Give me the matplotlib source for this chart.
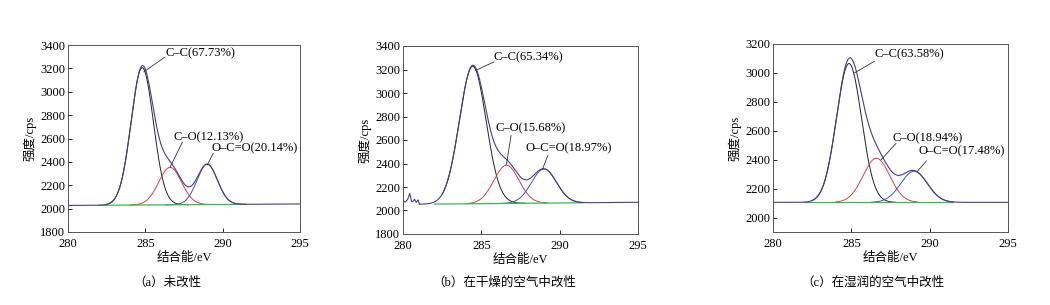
import numpy as np
import matplotlib
matplotlib.use('Agg')
import matplotlib.pyplot as plt

plt.rcParams['font.family'] = ['Liberation Serif', 'Noto Sans CJK SC']
plt.rcParams['font.size'] = 9

# peak parameters: centre (eV), height above baseline (cps), sigma (eV)
labels = ['C–C', 'C–O', 'O–C=O']
pct_a = ['67.73%', '12.13%', '20.14%']
pct_b = ['65.34%', '15.68%', '18.97%']
pct_c = ['63.58%', '18.94%', '17.48%']

centre_a = [284.8, 286.6, 289.0]
height_a = [1175, 320, 345]
sigma_a = [0.72, 0.74, 0.66]
base_a = [2027, 2040]          # baseline at 280 / 295 eV

centre_b = [284.45, 286.6, 289.0]
height_b = [1170, 325, 290]
sigma_b = [0.85, 0.8, 0.8]
base_b = [2052, 2070]
noise_x = [280.0, 280.15, 280.3, 280.43, 280.55, 280.65, 280.74, 280.85, 280.96, 281.05]
noise_y = [2080, 2072, 2095, 2145, 2075, 2080, 2095, 2070, 2090, 2055]

centre_c = [284.85, 286.6, 289.0]
height_c = [960, 305, 215]
sigma_c = [0.8, 0.85, 0.85]
base_c = [2105, 2105]

# x-range over which each component is drawn
comp_range = [(282.5, 287.8), (284.0, 289.2), (286.3, 291.5)]
green_range = (282.0, 291.5)

ylims = [(1800, 3400), (1800, 3400), (1900, 3200)]
yticks = [np.arange(1800, 3401, 200), np.arange(1800, 3401, 200), np.arange(2000, 3201, 200)]
captions = ['（a）未改性', '（b）在干燥的空气中改性', '（c）在湿润的空气中改性']

# per label: leader line (from, to) and lower-left corner of the text
ann_a = [((284.9, 3170), (286.27, 3297), (286.3, 3280)),
         ((286.6, 2355), (287.4, 2570), (286.8, 2562)),
         ((289.0, 2372), (289.4, 2475), (289.3, 2468))]
ann_b = [((284.6, 3190), (285.8, 3264), (285.75, 3250)),
         ((286.6, 2390), (286.9, 2640), (285.9, 2645)),
         ((288.9, 2350), (289.25, 2470), (287.8, 2475))]
ann_c = [((285.2, 3000), (286.5, 3082), (286.45, 3085)),
         ((286.9, 2400), (287.85, 2512), (287.6, 2505)),
         ((289.2, 2318), (289.8, 2392), (289.3, 2415))]

env_col = '#4b3a8c'
comp_cols = ['#222222', '#d0404a', '#3556b8']
green = '#3cb84a'


def gauss(x, c, h, s):
    return h * np.exp(-(x - c) ** 2 / (2 * s ** 2))


def draw(ax, centre, height, sigma, base, pct, ann, ylim, yt, noise=None):
    x = np.linspace(280, 295, 1500)
    bl = base[0] + (base[1] - base[0]) * (x - 280) / 15.0
    env = bl.copy()
    for i in range(3):
        env += gauss(x, centre[i], height[i], sigma[i])
    for i in range(3):
        lo, hi = comp_range[i]
        m = (x >= lo) & (x <= hi)
        ax.plot(x[m], bl[m] + gauss(x[m], centre[i], height[i], sigma[i]),
                color=comp_cols[i], lw=0.7)
    m = (x >= green_range[0]) & (x <= green_range[1])
    ax.plot(x[m], bl[m], color=green, lw=0.9)
    if noise is not None:
        m = x >= noise[0][-1]
        ax.plot(noise[0], noise[1], color=env_col, lw=0.8)
        ax.plot(x[m], env[m], color=env_col, lw=0.8)
    else:
        ax.plot(x, env, color=env_col, lw=0.8)
    for i in range(3):
        p0, p1, tpos = ann[i]
        ax.annotate('', xy=p0, xytext=p1,
                    arrowprops=dict(arrowstyle='-', lw=0.6, color='#333333',
                                    shrinkA=0, shrinkB=0))
        ax.text(tpos[0], tpos[1], labels[i] + '(' + pct[i] + ')',
                ha='left', va='bottom', fontsize=9)
    ax.set_xlim(280, 295)
    ax.set_ylim(*ylim)
    ax.set_xticks([280, 285, 290, 295])
    ax.set_yticks(yt)
    ax.tick_params(direction='in', length=3, width=0.6, labelsize=9, pad=2)
    ax.tick_params(axis='x', pad=4)
    for sp in ax.spines.values():
        sp.set_linewidth(0.7)
        sp.set_color('#555555')
    ax.set_ylabel('强度/cps', fontsize=9, labelpad=3)
    ax.set_xlabel('结合能/eV', fontsize=9, labelpad=2)


fig = plt.figure(figsize=(10.5, 3.05), dpi=100)
W, H = 1050.0, 305.0
boxes = [(68, 45, 300, 232), (403, 46, 638, 234), (773, 44, 1008, 232)]
axes = []
for (l, t, r, b) in boxes:
    axes.append(fig.add_axes([l / W, 1 - b / H, (r - l) / W, (b - t) / H]))

draw(axes[0], centre_a, height_a, sigma_a, base_a, pct_a, ann_a, ylims[0], yticks[0])
draw(axes[1], centre_b, height_b, sigma_b, base_b, pct_b, ann_b, ylims[1], yticks[1],
     noise=(noise_x, noise_y))
draw(axes[2], centre_c, height_c, sigma_c, base_c, pct_c, ann_c, ylims[2], yticks[2])

cap_x = [167, 504, 873]
for cx, cap in zip(cap_x, captions):
    fig.text(cx / W, 1 - 283 / H, cap, ha='center', va='center', fontsize=9)

fig.savefig('out.png', dpi=100)
plt.close(fig)
